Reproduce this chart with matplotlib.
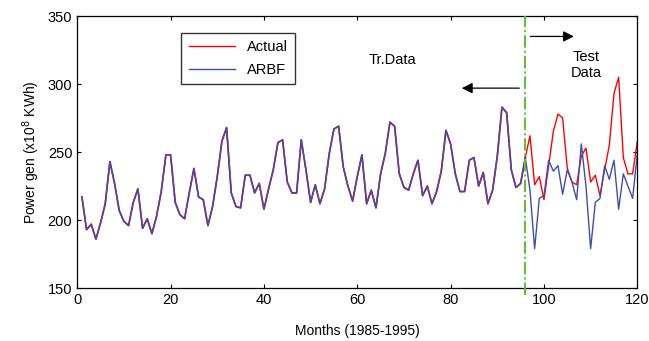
import matplotlib
matplotlib.use("Agg")
import matplotlib.pyplot as plt

plt.rcParams['font.family'] = ['Liberation Sans', 'DejaVu Sans']

months_train = list(range(1, 97))
train_values = [217, 193, 197, 186, 198, 212, 243, 227, 207, 199,
                196, 213, 223, 194, 201, 190, 203, 221, 248, 248,
                213, 204, 201, 220, 238, 217, 215, 196, 210, 232,
                258, 268, 220, 210, 209, 233, 233, 220, 227, 208,
                223, 237, 257, 259, 228, 220, 220, 259, 237, 213,
                226, 212, 223, 249, 267, 269, 239, 225, 214, 232,
                248, 212, 222, 209, 234, 249, 272, 269, 234, 224,
                222, 234, 244, 218, 225, 212, 221, 236, 266, 256,
                234, 221, 221, 244, 246, 225, 235, 212, 222, 247,
                283, 279, 237, 224, 227, 246]

months_test = list(range(96, 121))
actual_test = [246, 262, 226, 232, 215, 240, 265, 278, 275, 238,
               228, 226, 247, 253, 228, 233, 218, 237, 255, 293,
               305, 246, 234, 234, 258]
arbf_test = [246, 222, 179, 216, 218, 244, 236, 240, 219, 237,
             228, 215, 256, 225, 179, 213, 216, 240, 230, 244,
             208, 234, 225, 216, 249]

xticks = [0, 20, 40, 60, 80, 100, 120]
yticks = [150, 200, 250, 300, 350]
split_month = 96

fig = plt.figure(figsize=(6.49, 3.41), dpi=100)
ax = fig.add_axes([0.119, 0.155, 0.863, 0.798])

red = '#ff0000'
blue = '#3a4fb0'

ax.plot(months_train, train_values, color=red, lw=1.25, zorder=2)
ax.plot(months_test, actual_test, color=red, lw=1.0, label='Actual', zorder=2)
ax.plot(months_train, train_values, color=blue, lw=1.05, zorder=3)
ax.plot(months_test, arbf_test, color=blue, lw=1.0, label='ARBF', zorder=3)

ax.plot([split_month, split_month], [145, 350], color='#5cc02a', lw=1.4,
        linestyle='-.', clip_on=False, zorder=4)

ax.set_xlim(0, 120)
ax.set_ylim(150, 350)
ax.set_xticks(xticks)
ax.set_yticks(yticks)
ax.tick_params(direction='in', top=True, right=True, labelsize=10.5,
               length=3, width=0.8)
for s in ax.spines.values():
    s.set_linewidth(0.9)

ax.set_xlabel('Months (1985-1995)', fontsize=10, labelpad=12)
ax.set_ylabel('Power gen (x10$^8$ KWh)', fontsize=10)

leg = ax.legend(loc='upper left', bbox_to_anchor=(0.186, 0.9375), fontsize=10.5,
                frameon=True, fancybox=False, edgecolor='black',
                handlelength=3.2, borderpad=0.5, labelspacing=0.6,
                borderaxespad=0)
leg.get_frame().set_linewidth(1.0)

ax.text(67.5, 318, 'Tr.Data', fontsize=10.5, ha='center', va='center')
ax.text(109, 314, 'Test\nData', fontsize=10.5, ha='center', va='center',
        linespacing=1.1)

ax.annotate('', xy=(81.8, 297), xytext=(95.3, 297),
            arrowprops=dict(arrowstyle='-|>', color='black', lw=0.9,
                            mutation_scale=16))
ax.annotate('', xy=(107, 335), xytext=(96.5, 335),
            arrowprops=dict(arrowstyle='-|>', color='black', lw=0.9,
                            mutation_scale=16))

fig.savefig('out.png', dpi=100)
